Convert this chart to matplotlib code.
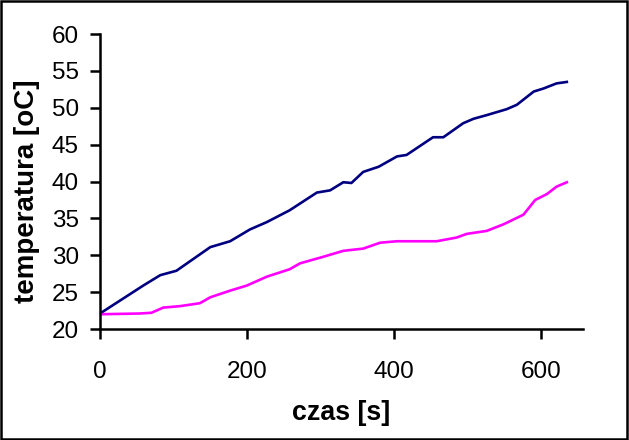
import matplotlib.pyplot as plt
from matplotlib.patches import Rectangle

# czas [s] / temperatura [oC]
t_navy = [0, 59, 82, 104, 150, 177, 204, 227, 258, 295, 313, 331, 342, 358, 379,
          404, 417, 435, 453, 467, 494, 508, 526, 553, 567, 590, 603, 621, 635]
temp_navy = [22.1, 25.9, 27.3, 27.9, 31.1, 31.9, 33.5, 34.5, 36.1, 38.5, 38.8, 39.9,
             39.8, 41.3, 42.0, 43.4, 43.6, 44.8, 46.0, 46.0, 47.9, 48.5, 49.0, 49.8,
             50.4, 52.2, 52.6, 53.3, 53.5]

t_magenta = [0, 54, 70, 86, 109, 136, 150, 177, 200, 227, 258, 272, 304, 331, 358,
             381, 404, 458, 485, 499, 526, 549, 576, 592, 608, 621, 635]
temp_magenta = [22.0, 22.1, 22.2, 22.9, 23.1, 23.5, 24.3, 25.2, 25.9, 27.1, 28.1, 28.9,
                29.8, 30.6, 30.9, 31.7, 31.9, 31.9, 32.4, 32.9, 33.3, 34.2, 35.5, 37.5,
                38.3, 39.3, 39.9]

x_ticks = [0, 200, 400, 600]
y_ticks = [20, 25, 30, 35, 40, 45, 50, 55, 60]

plt.rcParams['font.family'] = ['Liberation Sans', 'DejaVu Sans']

fig = plt.figure(figsize=(6.29, 4.40), dpi=100)
ax = fig.add_axes([100 / 629, 1 - 329 / 440, 483 / 629, 295 / 440])

ax.plot(t_navy, temp_navy, color='#000080', lw=1.9)
ax.plot(t_magenta, temp_magenta, color='#FF00FF', lw=1.9)

ax.set_xlim(0, 657)
ax.set_ylim(20, 60)
ax.set_xticks(x_ticks)
ax.set_yticks(y_ticks)

for side in ('top', 'right'):
    ax.spines[side].set_visible(False)
for side in ('left', 'bottom'):
    ax.spines[side].set_linewidth(1.8)

ax.tick_params(axis='both', direction='out', length=7.2, width=1.8, labelsize=17.5)
ax.tick_params(axis='x', pad=16)
ax.tick_params(axis='y', pad=8)

ax.set_xlabel('czas [s]', fontsize=19.3, fontweight='bold', labelpad=12)
ax.set_ylabel('temperatura [oC]', fontsize=20, fontweight='bold')
ax.yaxis.set_label_coords(-0.124, 0.468)

# black frame round the whole chart
fig.patches.append(Rectangle((0.002, 0.003), 0.995, 0.994, transform=fig.transFigure,
                             fill=False, edgecolor='black', lw=1.8))

fig.savefig('out.png', dpi=100)
